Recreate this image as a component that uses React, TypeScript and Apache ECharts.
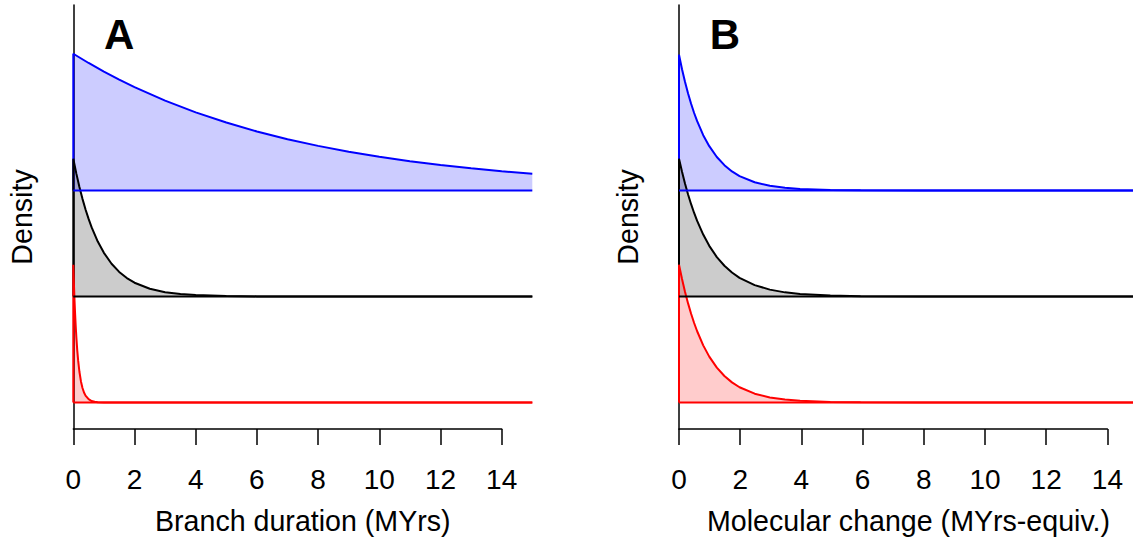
import React, { useEffect, useRef } from "react";
import * as echarts from "echarts";

// ---- data ----
const xTicks = [0, 2, 4, 6, 8, 10, 12, 14];
const xSlow = [0, 0.5, 1, 1.5, 2, 3, 4, 5, 6, 7, 8, 9, 10, 11, 12, 13, 14, 15];
const xMid = [0, 0.1, 0.2, 0.3, 0.4, 0.5, 0.6, 0.8, 1, 1.25, 1.5, 1.75, 2, 2.5, 3, 3.5, 4, 5, 6, 8, 15];
const xFast = [0, 0.02, 0.04, 0.06, 0.08, 0.1, 0.13, 0.16, 0.2, 0.25, 0.3, 0.35, 0.4, 0.5, 0.6, 0.7, 0.8, 1, 1.5, 2, 15];

// Panel A: branch duration densities (height above each baseline)
const aBlue = [1.29, 1.203, 1.122, 1.046, 0.975, 0.848, 0.737, 0.641, 0.557, 0.484, 0.421, 0.366, 0.318, 0.277, 0.24, 0.209, 0.182, 0.158];
const aBlack = [1.3, 1.159, 1.033, 0.921, 0.821, 0.732, 0.652, 0.518, 0.412, 0.309, 0.232, 0.174, 0.13, 0.073, 0.041, 0.023, 0.013, 0.004, 0.001, 0, 0];
const aRed = [1.3, 1.119, 0.963, 0.829, 0.713, 0.614, 0.49, 0.392, 0.29, 0.199, 0.137, 0.094, 0.065, 0.031, 0.014, 0.007, 0.003, 0.001, 0, 0, 0];

// Panel B: molecular change densities
const bBlue = [1.28, 1.144, 1.023, 0.915, 0.818, 0.731, 0.654, 0.522, 0.418, 0.316, 0.239, 0.18, 0.136, 0.078, 0.044, 0.025, 0.014, 0.005, 0.002, 0, 0];
const bBlack = [1.3, 1.176, 1.064, 0.963, 0.871, 0.788, 0.713, 0.584, 0.478, 0.372, 0.29, 0.226, 0.176, 0.107, 0.065, 0.039, 0.024, 0.009, 0.003, 0, 0];
const bRed = [1.3, 1.165, 1.043, 0.935, 0.837, 0.75, 0.672, 0.539, 0.433, 0.329, 0.25, 0.19, 0.144, 0.083, 0.048, 0.028, 0.016, 0.005, 0.002, 0, 0];

const offsets = { blue: 2.25, black: 1.25, red: 0.25 };
const xMax = 15;
const xAxisMax = 14;

const FONT = '"Liberation Sans", Arial, Helvetica, sans-serif';
const UNIT = 30.6;
const PLOT_TOP = 5;
const PLOT_H = 424;

function curve(xs: number[], hs: number[], offset: number, color: string, fill: string, idx: number) {
  const pts = [[0, offset], ...xs.map((x, i) => [x, offset + hs[i]])];
  return [
    {
      type: "line",
      xAxisIndex: idx,
      yAxisIndex: idx,
      data: pts,
      symbol: "none",
      silent: true,
      lineStyle: { color, width: 2 },
      itemStyle: { color },
      areaStyle: { color: fill, opacity: 1, origin: offset },
      z: 3,
    },
    {
      type: "line",
      xAxisIndex: idx,
      yAxisIndex: idx,
      data: [
        [0, offset],
        [xMax, offset],
      ],
      symbol: "none",
      silent: true,
      lineStyle: { color, width: 2 },
      itemStyle: { color },
      z: 4,
    },
  ];
}

function panelAxes(left: number) {
  return [
    { left, top: PLOT_TOP, width: UNIT * xMax, height: PLOT_H, containLabel: false },
    { left, top: PLOT_TOP, width: UNIT * xAxisMax, height: PLOT_H, containLabel: false },
  ];
}

export default function App() {
  const ref = useRef<HTMLDivElement>(null);
  useEffect(() => {
    if (!ref.current) return;
    const chart = echarts.init(ref.current, null, { renderer: "svg" });
    const leftA = 73.3;
    const leftB = 679;
    const grid = [...panelAxes(leftA), ...panelAxes(leftB)];
    const curveX = (gi: number) => ({
      type: "value",
      gridIndex: gi,
      min: 0,
      max: xMax,
      show: false,
    });
    const tickX = (gi: number) => ({
      type: "value",
      gridIndex: gi,
      min: 0,
      max: xAxisMax,
      interval: 2,
      axisLine: { show: true, lineStyle: { color: "#000", width: 1.5 } },
      axisTick: { show: true, length: 16, lineStyle: { color: "#000", width: 1.5 } },
      axisLabel: {
        show: true,
        color: "#000",
        fontSize: 28,
        fontFamily: FONT,
        margin: 36,
        formatter: (v: number) => (xTicks.includes(v) ? String(v) : ""),
      },
      splitLine: { show: false },
    });
    const curveY = (gi: number) => ({
      type: "value",
      gridIndex: gi,
      min: 0,
      max: 4,
      axisLine: { show: true, lineStyle: { color: "#000", width: 1.5 } },
      axisTick: { show: false },
      axisLabel: { show: false },
      splitLine: { show: false },
    });
    const hiddenY = (gi: number) => ({ type: "value", gridIndex: gi, min: 0, max: 4, show: false });

    const series = [
      ...curve(xSlow, aBlue, offsets.blue, "#0000FF", "rgba(0,0,255,0.2)", 0),
      ...curve(xMid, aBlack, offsets.black, "#000000", "rgba(0,0,0,0.2)", 0),
      ...curve(xFast, aRed, offsets.red, "#FF0000", "rgba(255,0,0,0.2)", 0),
      ...curve(xMid, bBlue, offsets.blue, "#0000FF", "rgba(0,0,255,0.2)", 2),
      ...curve(xMid, bBlack, offsets.black, "#000000", "rgba(0,0,0,0.2)", 2),
      ...curve(xMid, bRed, offsets.red, "#FF0000", "rgba(255,0,0,0.2)", 2),
    ];

    const txt = (text: string, x: number, y: number, size: number, bold = false, rotation = 0) => ({
      type: "text",
      x,
      y,
      rotation,
      silent: true,
      z: 10,
      style: {
        text,
        fill: "#000",
        fontSize: size,
        fontFamily: FONT,
        fontWeight: bold ? "bold" : "normal",
        align: "center",
        verticalAlign: "middle",
      },
    });

    chart.setOption({
      animation: false,
      backgroundColor: "#fff",
      grid,
      xAxis: [curveX(0), tickX(1), curveX(2), tickX(3)],
      yAxis: [curveY(0), hiddenY(1), curveY(2), hiddenY(3)],
      series,
      graphic: [
        txt("A", leftA + 1.5 * UNIT, 34.4, 42, true),
        txt("B", leftB + 1.5 * UNIT, 34.4, 42, true),
        txt("Density", 22, 217, 28.6, false, Math.PI / 2),
        txt("Density", leftB - (leftA - 22), 217, 28.6, false, Math.PI / 2),
        txt("Branch duration (MYrs)", leftA + 7.5 * UNIT, 521, 28.6),
        txt("Molecular change (MYrs-equiv.)", leftB + 7.5 * UNIT, 521, 28.6),
      ],
    });
    return () => chart.dispose();
  }, []);
  return (
    <div
      ref={ref}
      style={{ position: "absolute", left: 0, top: 0, width: 1133, height: 539 }}
    />
  );
}
